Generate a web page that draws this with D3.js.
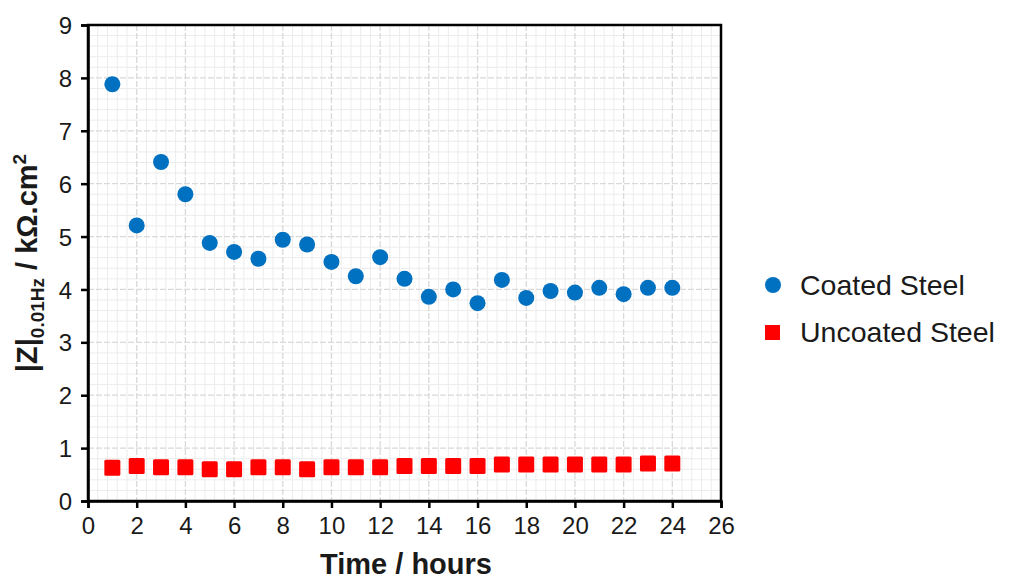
<!DOCTYPE html>
<html><head><meta charset="utf-8">
<script src="https://cdn.jsdelivr.net/npm/d3@7"></script>
<style>body{margin:0;background:#fff}svg{display:block}text{font-family:Arial,"Liberation Sans",sans-serif}</style>
</head><body><svg id="c" width="1009" height="582"></svg>
<script>
const hours = [1,2,3,4,5,6,7,8,9,10,11,12,13,14,15,16,17,18,19,20,21,22,23,24];
const coated = [7.88,5.21,6.41,5.80,4.88,4.71,4.58,4.94,4.85,4.52,4.25,4.61,4.20,3.86,4.00,3.74,4.18,3.84,3.97,3.94,4.03,3.91,4.03,4.03];
const uncoated = [0.63,0.66,0.64,0.64,0.60,0.60,0.64,0.64,0.60,0.64,0.64,0.64,0.66,0.66,0.66,0.66,0.69,0.69,0.69,0.69,0.69,0.69,0.71,0.71];
const xTicks = [0,2,4,6,8,10,12,14,16,18,20,22,24,26];
const yTicks = [0,1,2,3,4,5,6,7,8,9];
const seriesNames = ["Coated Steel","Uncoated Steel"];
const colors = ["#0070C0","#FF0000"];

const svg = d3.select("#c");
const L=88, R=721, T=25, B=501;
const x = d3.scaleLinear().domain([0,26]).range([L,R]);
const y = d3.scaleLinear().domain([0,9]).range([B,T]);

const g = svg.append("g");
// minor grid
const minorX = d3.range(0,26.001,0.4).filter(v=>Math.abs(v/2-Math.round(v/2))>1e-6);
const minorY = d3.range(0,9.001,0.2).filter(v=>Math.abs(v-Math.round(v))>1e-6);
g.selectAll(".mx").data(minorX).join("line").attr("x1",d=>x(d)).attr("x2",d=>x(d)).attr("y1",T).attr("y2",B).attr("stroke","#ececec").attr("stroke-width",1);
g.selectAll(".my").data(minorY).join("line").attr("y1",d=>y(d)).attr("y2",d=>y(d)).attr("x1",L).attr("x2",R).attr("stroke","#ececec").attr("stroke-width",1);
// major grid
g.selectAll(".Mx").data(xTicks.slice(1,-1)).join("line").attr("x1",d=>x(d)).attr("x2",d=>x(d)).attr("y1",T).attr("y2",B).attr("stroke","#d9d9d9").attr("stroke-width",1.3).attr("stroke-dasharray","6,2");
g.selectAll(".My").data(yTicks.slice(1,-1)).join("line").attr("y1",d=>y(d)).attr("y2",d=>y(d)).attr("x1",L).attr("x2",R).attr("stroke","#d9d9d9").attr("stroke-width",1.3).attr("stroke-dasharray","6,2");

// frame
svg.append("rect").attr("x",L).attr("y",T).attr("width",R-L).attr("height",B-T).attr("fill","none").attr("stroke","#000").attr("stroke-width",2.5);

// axes
const xAxis = svg.append("g").attr("transform",`translate(0,${B})`).call(d3.axisBottom(x).tickValues(xTicks).tickSize(7).tickPadding(9));
const yAxis = svg.append("g").attr("transform",`translate(${L},0)`).call(d3.axisLeft(y).tickValues(yTicks).tickSize(7).tickPadding(9));
[xAxis,yAxis].forEach(a=>{
  a.select(".domain").attr("stroke","#000").attr("stroke-width",2.5);
  a.selectAll(".tick line").attr("stroke","#000").attr("stroke-width",2.5);
  a.selectAll(".tick text").attr("fill","#1a1a1a").style("font-size","24px");
});
yAxis.selectAll(".tick text").attr("dy","0.36em");

// data
svg.append("g").selectAll("circle").data(hours.map((h,i)=>[h,coated[i]])).join("circle")
  .attr("cx",d=>x(d[0])).attr("cy",d=>y(d[1])).attr("r",8).attr("fill",colors[0]);
const s=16;
svg.append("g").selectAll("rect").data(hours.map((h,i)=>[h,uncoated[i]])).join("rect")
  .attr("x",d=>x(d[0])-s/2).attr("y",d=>y(d[1])-s/2).attr("width",s).attr("height",s).attr("rx",1.5).attr("fill",colors[1]);

// legend
const lg = svg.append("g");
lg.append("circle").attr("cx",773).attr("cy",285).attr("r",8).attr("fill",colors[0]);
lg.append("rect").attr("x",765).attr("y",325).attr("width",15).attr("height",15).attr("fill",colors[1]);
lg.selectAll("text").data(seriesNames).join("text").attr("x",800).attr("y",(d,i)=>285+i*47).attr("dy","0.36em")
  .style("font-size","28.5px").attr("fill","#1a1a1a").text(d=>d);

// axis titles
svg.append("text").attr("x",406).attr("y",574).attr("text-anchor","middle").style("font-size","29px").style("font-weight","bold").attr("fill","#1a1a1a").text("Time / hours");
const yl = svg.append("text").attr("transform","translate(37,263) rotate(-90)").attr("text-anchor","middle").style("font-size","29px").style("font-weight","bold").attr("fill","#1a1a1a");
yl.append("tspan").text("|Z|");
yl.append("tspan").attr("dy","7").style("font-size","19px").text("0.01Hz");
yl.append("tspan").attr("dy","-7").text(" / kΩ.cm");
yl.append("tspan").attr("dy","-11").style("font-size","19px").text("2");
</script></body></html>
